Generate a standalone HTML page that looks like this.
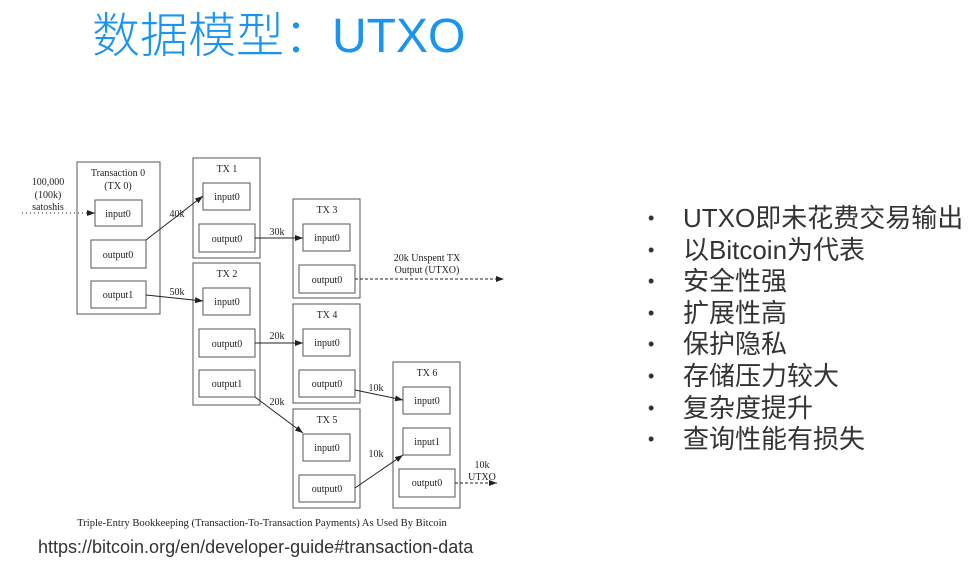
<!DOCTYPE html>
<html><head><meta charset="utf-8"><style>
body{margin:0;width:968px;height:565px;background:#fff;position:relative;overflow:hidden}
.t{position:absolute;left:92px;top:4px;font:48px "Liberation Sans","Noto Sans CJK SC",sans-serif;font-weight:300;color:#1a94f0;line-height:66px;white-space:nowrap}
ul{position:absolute;left:648px;top:203px;margin:0;padding:0;list-style:none;font:26px "Liberation Sans","Noto Sans CJK SC",sans-serif;color:#333;line-height:31.6px}
li{white-space:nowrap}li span{display:inline-block;width:35px;font-size:18px;vertical-align:3px}
.u{position:absolute;left:38px;top:537px;font:18px "Liberation Sans","Noto Sans CJK SC",sans-serif;color:#333;white-space:nowrap}
svg{position:absolute;left:0;top:0}
svg text{font-family:"Liberation Serif",serif;font-size:10px;fill:#222}
</style></head><body>
<div class="t">数据模型：UTXO</div>
<ul>
<li><span>•</span>UTXO即未花费交易输出</li>
<li><span>•</span>以Bitcoin为代表</li>
<li><span>•</span>安全性强</li>
<li><span>•</span>扩展性高</li>
<li><span>•</span>保护隐私</li>
<li><span>•</span>存储压力较大</li>
<li><span>•</span>复杂度提升</li>
<li><span>•</span>查询性能有损失</li>
</ul>
<div class="u">https://bitcoin.org/en/developer-guide#transaction-data</div>
<svg width="968" height="565">
<defs><marker id="a" markerWidth="8" markerHeight="6" refX="8" refY="3" orient="auto" markerUnits="userSpaceOnUse"><path d="M0,0L8,3L0,6z" fill="#222"/></marker></defs>
<g fill="none" stroke="#555" stroke-width="1">
<rect x="77" y="162" width="83" height="152"/>
<rect x="95" y="200" width="47" height="26"/><rect x="91" y="240" width="55" height="28"/><rect x="91" y="281" width="55" height="27"/>
<rect x="193" y="158" width="67" height="100"/><rect x="203" y="183" width="47" height="27"/><rect x="199" y="224" width="56" height="28"/>
<rect x="193" y="263" width="67" height="142"/><rect x="203" y="288" width="47" height="27"/><rect x="199" y="329" width="56" height="28"/><rect x="199" y="370" width="56" height="27"/>
<rect x="293" y="199" width="67" height="99"/><rect x="303" y="224" width="47" height="27"/><rect x="299" y="265" width="56" height="28"/>
<rect x="293" y="304" width="67" height="99"/><rect x="303" y="329" width="47" height="27"/><rect x="299" y="370" width="56" height="27"/>
<rect x="293" y="409" width="67" height="99"/><rect x="303" y="434" width="47" height="27"/><rect x="299" y="475" width="56" height="27"/>
<rect x="393" y="362" width="67" height="146"/><rect x="403" y="387" width="47" height="27"/><rect x="403" y="428" width="47" height="27"/><rect x="399" y="469" width="56" height="28"/>
</g>
<g stroke="#222" stroke-width="1" fill="none" marker-end="url(#a)">
<path d="M22,213H95" stroke-dasharray="1,3"/>
<path d="M146,240L203,196"/>
<path d="M146,295L203,301"/>
<path d="M255,238H303"/>
<path d="M355,279H504" stroke-dasharray="3,2"/>
<path d="M255,343H303"/>
<path d="M255,397L303,433"/>
<path d="M355,390L403,400"/>
<path d="M355,488L403,455"/>
<path d="M455,483H497" stroke-dasharray="3,2"/>
</g>
<g text-anchor="middle">
<text x="48" y="185">100,000</text><text x="48" y="198">(100k)</text><text x="48" y="210">satoshis</text>
<text x="118" y="176">Transaction 0</text><text x="118" y="189">(TX 0)</text>
<text x="118" y="217">input0</text><text x="118" y="258">output0</text><text x="118" y="298">output1</text>
<text x="227" y="172">TX 1</text><text x="227" y="200">input0</text><text x="227" y="242">output0</text>
<text x="227" y="277">TX 2</text><text x="227" y="305">input0</text><text x="227" y="347">output0</text><text x="227" y="387">output1</text>
<text x="327" y="213">TX 3</text><text x="327" y="241">input0</text><text x="327" y="283">output0</text>
<text x="327" y="318">TX 4</text><text x="327" y="346">input0</text><text x="327" y="387">output0</text>
<text x="327" y="423">TX 5</text><text x="327" y="451">input0</text><text x="327" y="492">output0</text>
<text x="427" y="376">TX 6</text><text x="427" y="404">input0</text><text x="427" y="445">input1</text><text x="427" y="486">output0</text>
<text x="177" y="217">40k</text><text x="177" y="295">50k</text><text x="277" y="235">30k</text><text x="277" y="339">20k</text><text x="277" y="405">20k</text>
<text x="376" y="391">10k</text><text x="376" y="457">10k</text>
<text x="427" y="261">20k Unspent TX</text><text x="427" y="273">Output (UTXO)</text>
<text x="482" y="468">10k</text><text x="482" y="480">UTXO</text>
<text x="262" y="526" style="font-size:10.6px">Triple-Entry Bookkeeping (Transaction-To-Transaction Payments) As Used By Bitcoin</text>
</g>
</svg>
</body></html>
